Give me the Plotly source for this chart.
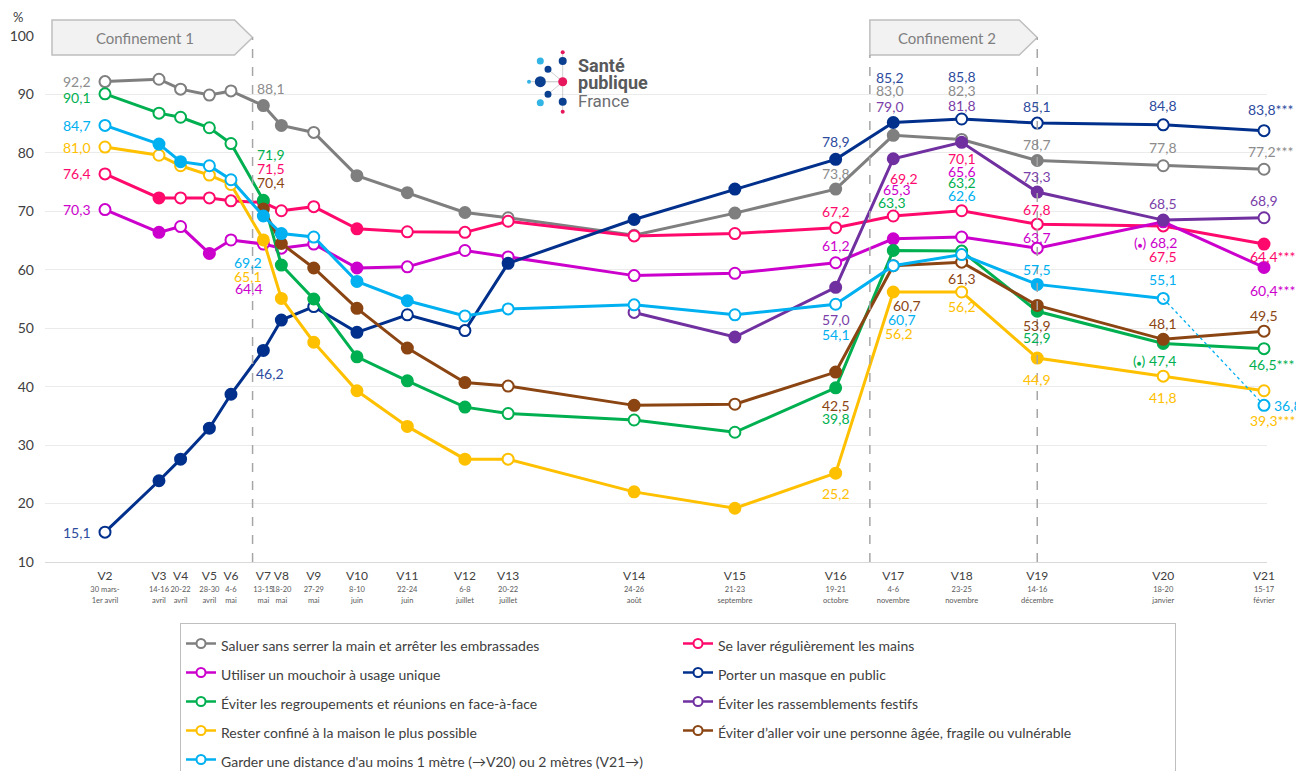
import plotly.graph_objects as go
import pandas as pd

# ---------------------------------------------------------------- data
waves = ["V2", "V3", "V4", "V5", "V6", "V7", "V8", "V9", "V10", "V11",
         "V12", "V13", "V14", "V15", "V16", "V17", "V18", "V19", "V20", "V21"]
wave_dates = ["2020-03-31", "2020-04-15", "2020-04-21", "2020-04-29", "2020-05-05",
              "2020-05-14", "2020-05-19", "2020-05-28", "2020-06-09", "2020-06-23",
              "2020-07-09", "2020-07-21", "2020-08-25", "2020-09-22", "2020-10-20",
              "2020-11-05", "2020-11-24", "2020-12-15", "2021-01-19", "2021-02-16"]
period_days = ["30 mars-", "14-16", "20-22", "28-30", "4-6", "13-15", "18-20", "27-29",
               "8-10", "22-24", "6-8", "20-22", "24-26", "21-23", "19-21", "4-6",
               "23-25", "14-16", "18-20", "15-17"]
period_months = ["1er avril", "avril", "avril", "avril", "mai", "mai", "mai", "mai",
                 "juin", "juin", "juillet", "juillet", "août", "septembre", "octobre",
                 "novembre", "novembre", "décembre", "janvier", "février"]

saluer = [92.2, 92.6, 90.9, 89.9, 90.6, 88.1, 84.7, 83.5, 76.1, 73.2,
          69.8, 68.9, 65.9, 69.7, 73.8, 83.0, 82.3, 78.7, 77.8, 77.2]
saluer_sig = [0, 0, 0, 0, 0, 1, 1, 0, 1, 1, 1, 0, 1, 1, 1, 1, 0, 1, 0, 0]

laver = [76.4, 72.3, 72.3, 72.3, 71.8, 71.5, 70.1, 70.8, 67.0, 66.5,
         66.4, 68.3, 65.8, 66.2, 67.2, 69.2, 70.1, 67.8, 67.5, 64.4]
laver_sig = [0, 1, 0, 0, 0, 0, 0, 0, 1, 0, 0, 0, 0, 0, 0, 0, 0, 0, 0, 1]

mouchoir = [70.3, 66.4, 67.4, 62.8, 65.1, 64.4, 63.7, 64.4, 60.3, 60.5,
            63.3, 62.2, 59.0, 59.4, 61.2, 65.3, 65.6, 63.7, 68.2, 60.4]
mouchoir_sig = [0, 1, 0, 1, 0, 0, 0, 0, 1, 0, 0, 0, 0, 0, 0, 1, 0, 0, 1, 1]

masque = [15.1, 23.9, 27.6, 32.9, 38.7, 46.2, 51.4, 53.7, 49.3, 52.3,
          49.6, 61.1, 68.6, 73.8, 78.9, 85.2, 85.8, 85.1, 84.8, 83.8]
masque_sig = [0, 1, 1, 1, 1, 1, 1, 0, 1, 0, 0, 1, 1, 1, 1, 1, 0, 0, 0, 0]

regroupements = [90.1, 86.8, 86.1, 84.3, 81.6, 71.9, 60.8, 55.0, 45.1, 41.0,
                 36.5, 35.4, 34.3, 32.2, 39.8, 63.3, 63.2, 52.9, 47.4, 46.5]
regroupements_sig = [0, 0, 0, 0, 0, 1, 1, 1, 1, 1, 1, 0, 0, 0, 1, 1, 0, 1, 1, 0]

festifs = [None] * 12 + [52.7, 48.5, 57.0, 79.0, 81.8, 73.3, 68.5, 68.9]
festifs_sig = [0] * 12 + [0, 1, 1, 1, 1, 1, 1, 0]

confine = [81.0, 79.6, 77.8, 76.2, 74.6, 65.1, 55.1, 47.6, 39.3, 33.2,
           27.6, 27.6, 22.0, 19.2, 25.2, 56.2, 56.2, 44.9, 41.8, 39.3]
confine_sig = [0, 0, 0, 0, 0, 1, 1, 1, 1, 1, 1, 0, 1, 1, 1, 1, 0, 1, 0, 0]

agees = [None] * 5 + [70.4, 64.5, 60.3, 53.4, 46.6, 40.7, 40.1, 36.8, 37.0,
                      42.5, 60.7, 61.3, 53.9, 48.1, 49.5]
agees_sig = [0] * 5 + [1, 1, 1, 1, 1, 1, 0, 1, 0, 1, 1, 0, 1, 1, 0]

distance = [84.7, 81.5, 78.5, 77.8, 75.4, 69.2, 66.2, 65.6, 58.0, 54.7,
            52.1, 53.3, 54.0, 52.3, 54.1, 60.7, 62.6, 57.5, 55.1, 36.8]
distance_sig = [0, 1, 1, 0, 0, 1, 1, 0, 1, 1, 0, 0, 0, 0, 0, 0, 0, 1, 0, 0]

lockdowns = [("Confinement 1", None, "2020-05-11"),
             ("Confinement 2", "2020-10-29 12:00", "2020-12-15")]

# --------------------------------------------------------------- styles
series = [
    ("saluer", "Saluer sans serrer la main et arrêter les embrassades", saluer, saluer_sig, "#7F7F7F"),
    ("laver", "Se laver régulièrement les mains", laver, laver_sig, "#FF0A6C"),
    ("mouchoir", "Utiliser un mouchoir à usage unique", mouchoir, mouchoir_sig, "#CC00CC"),
    ("masque", "Porter un masque en public", masque, masque_sig, "#00308C"),
    ("regroupements", "Éviter les regroupements et réunions en face-à-face", regroupements, regroupements_sig, "#00B050"),
    ("festifs", "Éviter les rassemblements festifs", festifs, festifs_sig, "#7030A0"),
    ("confine", "Rester confiné à la maison le plus possible", confine, confine_sig, "#FFC000"),
    ("agees", "Éviter d’aller voir une personne âgée, fragile ou vulnérable", agees, agees_sig, "#8B4513"),
    ("distance", "Garder une distance d'au moins 1 mètre (→V20) ou 2 mètres (V21→)", distance, distance_sig, "#00B0F0"),
]
label_colors = {"saluer": "#8C8C8C", "masque": "#2E4C9E", "festifs": "#7A3FA8"}

# value labels: wave, anchor, x shift, y shift (px), prefix, suffix
DOT = "(<span style='font-size:8px'>●</span>) "
labels = {
    "saluer": [("V2", "right", -12, 0, "", ""), ("V7", "left", -8, 17, "", ""),
               ("V16", "center", 0, 16, "", ""), ("V17", "center", -3, 45, "", ""),
               ("V18", "center", 0, 49, "", ""), ("V19", "center", 0, 16, "", ""),
               ("V20", "center", 0, 18, "", ""), ("V21", "left", -18, 18, "", "***")],
    "laver": [("V2", "right", -12, 0, "", ""), ("V7", "left", -8, 34, "", ""),
              ("V16", "center", 0, 16, "", ""), ("V17", "center", 11, 38, "", ""),
              ("V18", "center", 0, 52, "", ""), ("V19", "center", 0, 15, "", ""),
              ("V20", "center", 0, -31, "", ""), ("V21", "left", -16, -12, "", "***")],
    "mouchoir": [("V2", "right", -12, 0, "", ""), ("V7", "center", -14, -44, "", ""),
                 ("V16", "center", 0, 17, "", ""), ("V17", "center", 4, 49, "", ""),
                 ("V18", "center", 0, 66, "", ""), ("V19", "center", 0, 11, "", ""),
                 ("V20", "center", -8, -21, DOT, ""), ("V21", "left", -16, -23, "", "***")],
    "masque": [("V2", "right", -12, 0, "", ""), ("V7", "left", -9, -23, "", ""),
               ("V16", "center", 0, 18, "", ""), ("V17", "center", -3, 45, "", ""),
               ("V18", "center", 0, 42, "", ""), ("V19", "center", 0, 17, "", ""),
               ("V20", "center", 0, 19, "", ""), ("V21", "left", -18, 21, "", "***")],
    "regroupements": [("V2", "right", -12, -4, "", ""), ("V7", "left", -8, 46, "", ""),
                      ("V16", "center", 0, -31, "", ""), ("V17", "center", -1, 48, "", ""),
                      ("V18", "center", 0, 69, "", ""), ("V19", "center", 0, -26, "", ""),
                      ("V20", "center", -9, -17, DOT, ""), ("V21", "left", -17, -16, "", "***")],
    "festifs": [("V16", "center", 0, -32, "", ""), ("V17", "center", -3, 52, "", ""),
                ("V18", "center", 0, 37, "", ""), ("V19", "center", 0, 16, "", ""),
                ("V20", "center", 0, 17, "", ""), ("V21", "center", 0, 17, "", "")],
    "confine": [("V2", "right", -12, 0, "", ""), ("V7", "center", -15, -37, "", ""),
                ("V16", "center", 0, -20, "", ""), ("V17", "center", 6, -42, "", ""),
                ("V18", "center", 0, -15, "", ""), ("V19", "center", 0, -21, "", ""),
                ("V20", "center", 0, -21, "", ""), ("V21", "left", -16, -30, "", "***")],
    "agees": [("V7", "left", -8, 27, "", ""), ("V16", "center", 0, -33, "", ""),
              ("V17", "center", 14, -40, "", ""), ("V18", "center", 0, -16, "", ""),
              ("V19", "center", 0, -20, "", ""), ("V20", "center", 0, 16, "", ""),
              ("V21", "center", 0, 16, "", "")],
    "distance": [("V2", "right", -12, 0, "", ""), ("V7", "center", -15, -46, "", ""),
                 ("V16", "center", 0, -30, "", ""), ("V17", "center", 9, -54, "", ""),
                 ("V18", "center", 0, 59, "", ""), ("V19", "center", 0, 15, "", ""),
                 ("V20", "center", 0, 19, "", ""), ("V21", "left", 8, 0, "", "")],
}

FONT = "Lato, 'Open Sans', sans-serif"
W, H = 1296, 771
L, R, T, B = 45, 29, 36, 209
PW, PH = W - L - R, H - T - B
X_START, X_END = pd.Timestamp("2020-03-14 08:00"), pd.Timestamp("2021-02-16 20:00")


def px(x):
    return (x - L) / PW


def py(y):
    return (H - B - y) / PH


def date_px(d):
    d = pd.Timestamp(d)
    return L + (d - X_START) / (X_END - X_START) * PW


def fmt(v):
    return f"{v:.1f}".replace(".", ",")


fig = go.Figure()

for key, name, vals, sig, color in series:
    if key == "distance":
        xs, ys, ss = wave_dates[:-1], vals[:-1], sig[:-1]
    else:
        xs, ys, ss = wave_dates, vals, sig
    fills = [color if s else "white" for s in ss]
    fig.add_trace(go.Scatter(
        x=xs, y=ys, mode="lines+markers", showlegend=False, cliponaxis=False,
        line=dict(color=color, width=3),
        marker=dict(size=11, color=fills, line=dict(color=color, width=2)),
        hoverinfo="skip"))
    if key == "distance":
        # change of the recommended distance: 1 m up to V20, 2 m from V21
        fig.add_trace(go.Scatter(
            x=wave_dates[-2:], y=vals[-2:], mode="lines", showlegend=False,
            line=dict(color=color, width=1.3, dash="dot"), hoverinfo="skip"))
        fig.add_trace(go.Scatter(
            x=wave_dates[-1:], y=vals[-1:], mode="markers", showlegend=False,
            cliponaxis=False,
            marker=dict(size=11, color=[color if sig[-1] else "white"],
                        line=dict(color=color, width=2)), hoverinfo="skip"))

# legend entries (larger legend font gives the row spacing, names drawn at 14px)
for key, name, vals, sig, color in series:
    fig.add_trace(go.Scatter(
        x=[None], y=[None], mode="lines+markers",
        name=f"<span style='font-size:14px'>{name}</span>",
        line=dict(color=color, width=2.5),
        marker=dict(size=9, color="white", line=dict(color=color, width=2))))

annotations = []
for key, name, vals, sig, color in series:
    for wave, anchor, dx, dy, pre, suf in labels[key]:
        i = waves.index(wave)
        v = vals[i]
        annotations.append(dict(
            x=wave_dates[i], y=v, xref="x", yref="y", text=pre + fmt(v) + suf,
            showarrow=False, xanchor=anchor, yanchor="middle", xshift=dx, yshift=dy,
            font=dict(family=FONT, size=14, color=label_colors.get(key, color))))

shapes = []
# lockdown periods: banner arrows and dashed limits
for title, start, end in lockdowns:
    tip = date_px(end)
    left = 52 if start is None else date_px(start)
    path = (f"M {px(left)},{py(20)} L {px(tip - 18)},{py(20)} L {px(tip)},{py(37.5)} "
            f"L {px(tip - 18)},{py(55)} L {px(left)},{py(55)} Z")
    shapes.append(dict(type="path", xref="paper", yref="paper", path=path,
                       fillcolor="#F2F2F2", line=dict(color="#BFBFBF", width=1.5), layer="above"))
    annotations.append(dict(x=px((left + tip - 18) / 2 + 2), y=py(38), xref="paper", yref="paper",
                            text=title, showarrow=False, xanchor="center", yanchor="middle",
                            font=dict(family=FONT, size=15, color="#7F7F7F")))
    shapes.append(dict(type="line", xref="x", yref="paper", x0=end, x1=end,
                       y0=0, y1=py(37.5), line=dict(color="#A6A6A6", width=1.5, dash="dash")))
    if start is not None:
        shapes.append(dict(type="line", xref="x", yref="paper", x0=start, x1=start,
                           y0=0, y1=py(55), line=dict(color="#A6A6A6", width=1.5, dash="dash")))

# Santé publique France logo
hub = (562.7, 81.7)
for (cx, cy) in [(548, 69.3), (540.3, 81.7), (548, 94.3)]:
    shapes.append(dict(type="line", xref="paper", yref="paper", x0=px(hub[0]), y0=py(hub[1]),
                       x1=px(cx), y1=py(cy), line=dict(color="#CFCFCF", width=1)))
shapes.append(dict(type="line", xref="paper", yref="paper", x0=px(562.7), y0=py(52),
                   x1=px(562.7), y1=py(112), line=dict(color="#CFCFCF", width=1)))
shapes.append(dict(type="line", xref="paper", yref="paper", x0=px(529), y0=py(81.7),
                   x1=px(562.7), y1=py(81.7), line=dict(color="#CFCFCF", width=1)))
for cx, cy, r, c in [(562.7, 52.3, 2, "#E6175C"), (562.7, 61, 4, "#0B3F8F"),
                     (540.3, 61, 3.5, "#32B4E5"), (548, 69.3, 3.5, "#0B3F8F"),
                     (540.3, 81.7, 5.5, "#0B3F8F"), (529, 81.7, 2, "#32B4E5"),
                     (562.7, 81.7, 4.5, "#E6175C"), (548, 94.3, 3.5, "#0B3F8F"),
                     (540.3, 102.7, 3.5, "#32B4E5"), (562.7, 101.7, 4, "#0B3F8F"),
                     (562.7, 111.7, 2, "#E6175C")]:
    shapes.append(dict(type="circle", xref="paper", yref="paper",
                       x0=px(cx - r), x1=px(cx + r), y0=py(cy + r), y1=py(cy - r),
                       fillcolor=c, line=dict(width=0)))
for txt, ty, bold, size, col in [("Santé", 65.5, True, 18, "#58595B"),
                                 ("publique", 82.5, True, 18, "#58595B"),
                                 ("France", 101, False, 17, "#6D6E71")]:
    annotations.append(dict(x=px(576), y=py(ty), xref="paper", yref="paper",
                            text=f"<b>{txt}</b>" if bold else txt, showarrow=False,
                            xanchor="left", yanchor="middle",
                            font=dict(family="Roboto, sans-serif", size=size, color=col)))

annotations.append(dict(x=px(18), y=py(17), xref="paper", yref="paper", text="%",
                        showarrow=False, xanchor="center", yanchor="middle",
                        font=dict(family=FONT, size=13, color="#404040")))

ticktext = [f"<span style='font-size:12px;color:#404040'>{w}</span><br>"
            f"<span style='font-size:7.5px'>{d}</span><br>"
            f"<span style='font-size:7.5px'>{m}</span>"
            for w, d, m in zip(waves, period_days, period_months)]

fig.update_layout(
    width=W, height=H, margin=dict(l=L, r=R, t=T, b=B, autoexpand=False),
    paper_bgcolor="white", plot_bgcolor="white",
    font=dict(family=FONT, color="#404040"),
    xaxis=dict(type="date", range=[X_START, X_END], tickvals=wave_dates, ticktext=ticktext,
               tickangle=0, showgrid=False, zeroline=False, showline=True,
               linecolor="#D9D9D9", linewidth=1, ticks="", ticklabelstandoff=6,
               tickfont=dict(family=FONT, size=9, color="#595959")),
    yaxis=dict(range=[10, 100], dtick=10, showgrid=True, gridcolor="#EBEBEB", zeroline=False,
               showline=False, ticks="", ticklabelstandoff=10,
               tickfont=dict(family=FONT, size=14, color="#404040")),
    legend=dict(orientation="h", x=px(180), y=py(623), xanchor="left", yanchor="top",
                entrywidth=452, entrywidthmode="pixels", bordercolor="#BFBFBF", borderwidth=1,
                font=dict(family=FONT, size=20, color="#404040"), itemwidth=30,
                bgcolor="white"),
    shapes=shapes, annotations=annotations,
)

fig.write_html("out.html")
